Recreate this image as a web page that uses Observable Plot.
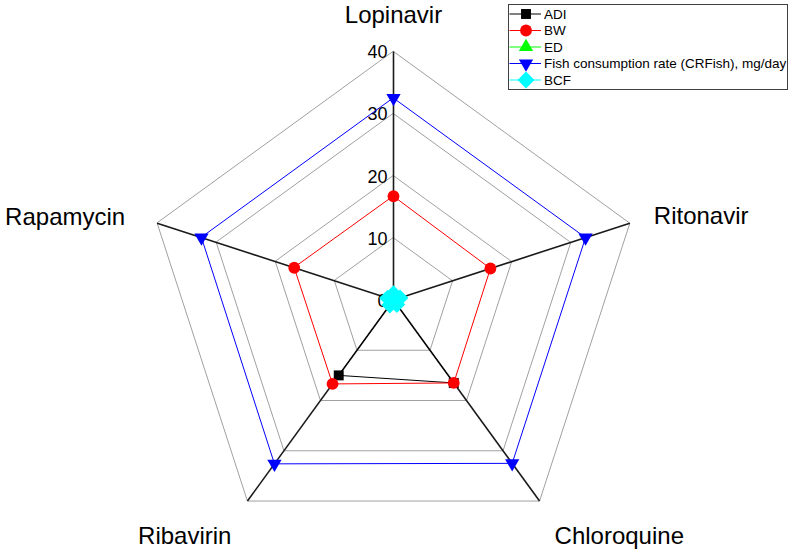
<!DOCTYPE html>
<html><head><meta charset="utf-8">
<script src="https://cdn.jsdelivr.net/npm/d3@7"></script>
<script src="https://cdn.jsdelivr.net/npm/@observablehq/plot@0.6"></script>
<style>
html,body{margin:0;padding:0;background:#fff;}
#wrap{position:relative;width:792px;height:551px;font-family:"Liberation Sans",Arial,sans-serif;}
#legend{position:absolute;left:508px;top:4px;}
</style></head><body><div id="wrap"></div>
<script>
// ---- data ----
const drugs = ["Lopinavir", "Ritonavir", "Chloroquine", "Ribavirin", "Rapamycin"];
const ADI = [0, 0, 16.5, 15, 0];
const BW = [16.7, 16.4, 16.5, 16.7, 16.8];
const ED = [0.2, 0.2, 0.2, 0.2, 0.2];
const CRFish = [32.5, 32.5, 32.5, 32.6, 32.5];
const BCF = [1.0, 1.1, 0.9, 1.0, 1.0];
const seriesNames = ["ADI", "BW", "ED", "Fish consumption rate (CRFish), mg/day", "BCF"];
const tickValues = [0, 10, 20, 30, 40];
const ringValues = [10, 20, 30, 40];
const maxValue = 40;

// ---- styling ----
const seriesStyle = [
  {values: ADI, color: "#000000", symbol: "square", r: 5.6, rotate: 0},
  {values: BW, color: "#ff0000", symbol: "circle", r: 5.9, rotate: 0},
  {values: ED, color: "#00ff00", symbol: "triangle", r: 5.3, rotate: 0},
  {values: CRFish, color: "#0000ff", symbol: "triangle", r: 5.3, rotate: 180},
  {values: BCF, color: "#00ffff", symbol: "diamond2", r: 7.6, rotate: 0}
];
const labelStyle = {
  Lopinavir: {anchor: "middle", dx: 0, dy: -36},
  Ritonavir: {anchor: "start", dx: 24, dy: -6.5},
  Chloroquine: {anchor: "start", dx: 15, dy: 35},
  Ribavirin: {anchor: "end", dx: -16, dy: 35},
  Rapamycin: {anchor: "end", dx: -32, dy: -6}
};

const W = 792, H = 551, cx = 393, cy = 299.5, R = 248.5;
const k = R / maxValue;
const n = drugs.length;
const polar = (i, v) => ({x: v * Math.sin(2 * Math.PI * i / n), y: v * Math.cos(2 * Math.PI * i / n)});

const ringData = ringValues.flatMap(rv => drugs.map((d, i) => ({ring: rv, ...polar(i, rv)})));
const spokeData = drugs.map((d, i) => ({drug: d, ...polar(i, maxValue)}));

const marks = [
  Plot.line(ringData, {x: "x", y: "y", z: "ring", curve: "linear-closed", stroke: "#a0a0a0", strokeWidth: 1}),
  Plot.link(spokeData, {x1: () => 0, y1: () => 0, x2: "x", y2: "y", stroke: "#1a1a1a", strokeWidth: 1.6}),
  Plot.text(tickValues, {x: () => 0, y: d => d, text: d => String(d), textAnchor: "end", dx: -6, dy: 1, fontSize: 18, fill: "#000"})
];
for (const d of spokeData) {
  const s = labelStyle[d.drug];
  marks.push(Plot.text([d], {x: "x", y: "y", text: "drug", textAnchor: s.anchor, dx: s.dx, dy: s.dy, fontSize: 24, fill: "#000"}));
}
seriesStyle.forEach((s, si) => {
  const pts = s.values.map((v, i) => ({series: seriesNames[si], ...polar(i, v)}));
  marks.push(Plot.line(pts, {x: "x", y: "y", curve: "linear-closed", stroke: s.color, strokeWidth: 1}));
  marks.push(Plot.dot(pts, {x: "x", y: "y", symbol: s.symbol, r: s.r, rotate: s.rotate, fill: s.color, stroke: "none"}));
});

const chart = Plot.plot({
  width: W, height: H, margin: 0,
  x: {domain: [-cx / k, (W - cx) / k], range: [0, W], axis: null},
  y: {domain: [-(H - cy) / k, cy / k], range: [H, 0], axis: null},
  style: {fontFamily: '"Liberation Sans", Arial, sans-serif', background: "#fff", overflow: "visible"},
  marks
});
const wrap = document.getElementById("wrap");
wrap.appendChild(chart);

// ---- legend ----
const LW = 279, LH = 85, rowH = 16.5;
const leg = d3.select(wrap).append("svg").attr("id", "legend").attr("width", LW + 1).attr("height", LH + 1);
leg.append("rect").attr("x", 0.5).attr("y", 0.5).attr("width", LW).attr("height", LH)
  .attr("fill", "#fff").attr("stroke", "#404040").attr("stroke-width", 1);
const symMap = {square: d3.symbolSquare, circle: d3.symbolCircle, triangle: d3.symbolTriangle, diamond2: d3.symbolDiamond2};
seriesStyle.forEach((s, i) => {
  const y = 10 + i * rowH;
  const g = leg.append("g").attr("transform", `translate(0,${y})`);
  g.append("line").attr("x1", 1.5).attr("x2", 33).attr("y1", 0).attr("y2", 0).attr("stroke", s.color).attr("stroke-width", 1);
  g.append("path").attr("d", d3.symbol(symMap[s.symbol], Math.PI * s.r * s.r)())
    .attr("transform", `translate(18,0) rotate(${s.rotate})`).attr("fill", s.color);
  g.append("text").attr("x", 36).attr("y", 0).attr("dy", "0.35em").attr("font-size", 13.5)
    .attr("font-family", '"Liberation Sans", Arial, sans-serif').attr("fill", "#000").text(seriesNames[i]);
});
</script>
</body></html>
